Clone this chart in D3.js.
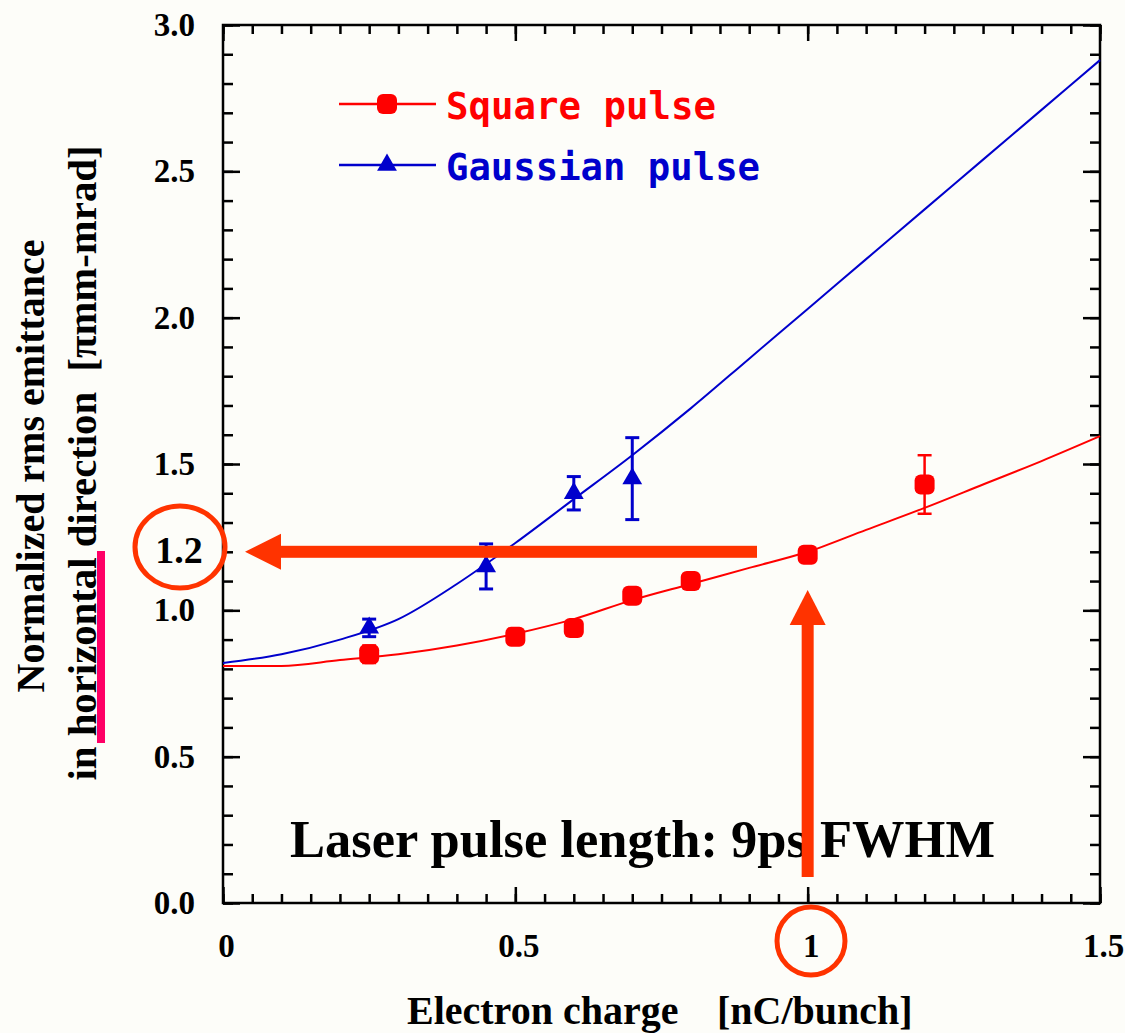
<!DOCTYPE html>
<html>
<head>
<meta charset="utf-8">
<script src="https://cdn.jsdelivr.net/npm/d3@7"></script>
<style>
  html, body { margin: 0; padding: 0; background: #fdfdf9; }
  svg { display: block; }
</style>
</head>
<body>
<script>
// Emittance measurements (square vs gaussian laser pulse)
const squareCharge = [0.25, 0.5, 0.6, 0.7, 0.8, 1.0, 1.2];
const squareEmit   = [0.85, 0.91, 0.94, 1.05, 1.10, 1.19, 1.43];
const squareErr    = [0.03, 0, 0, 0, 0, 0, 0.10];

const gaussCharge = [0.25, 0.45, 0.6, 0.7];
const gaussEmit   = [0.94, 1.15, 1.40, 1.45];
const gaussErr    = [0.03, 0.077, 0.057, 0.14];

// Simulated curves
const fitCharge   = [0, 0.1, 0.2, 0.3, 0.4, 0.5, 0.6, 0.7, 0.8, 0.9, 1.0, 1.1, 1.2, 1.3, 1.4, 1.5];
const squareFit   = [0.81, 0.81, 0.83, 0.85, 0.88, 0.92, 0.97, 1.035, 1.09, 1.145, 1.20, 1.275, 1.35, 1.43, 1.51, 1.595];
const gaussFit    = [0.82, 0.85, 0.90, 0.97, 1.09, 1.23, 1.38, 1.53, 1.69, 1.86, 2.03, 2.20, 2.37, 2.54, 2.71, 2.88];

const xMajor = [0, 0.5, 1, 1.5];
const yMajor = [0, 0.5, 1.0, 1.5, 2.0, 2.5, 3.0];

const seriesNames = ["Square pulse", "Gaussian pulse"];
const highlightEmit = 1.2;
const highlightCharge = 1;

const W = 1125, H = 1033;
const RED = "#ff0000", BLUE = "#0000cc", MARK = "#ff3300";

const svg = d3.select("body").append("svg").attr("width", W).attr("height", H);
svg.append("rect").attr("width", W).attr("height", H).attr("fill", "#fdfdf9");

const x = d3.scaleLinear().domain([0, 1.5]).range([223, 1100]);
const y = d3.scaleLinear().domain([0, 3]).range([903, 25]);

const xMinor = d3.range(0, 1.5001, 0.05).map(v => +v.toFixed(2));
const yMinor = d3.range(0, 3.0001, 0.1).map(v => +v.toFixed(1));

const tickFont = "'Liberation Serif', 'Times New Roman', serif";

// minor ticks, all four sides, pointing inward
function styleAxis(g) {
  g.select(".domain").remove();
  g.selectAll("line").attr("stroke", "#000").attr("stroke-width", 2.5);
}
svg.append("g").attr("transform", "translate(0,903)")
  .call(d3.axisBottom(x).tickValues(xMinor).tickSize(-9).tickFormat("")).call(styleAxis);
svg.append("g").attr("transform", "translate(0,25)")
  .call(d3.axisTop(x).tickValues(xMinor).tickSize(-9).tickFormat("")).call(styleAxis);
svg.append("g").attr("transform", "translate(223,0)")
  .call(d3.axisLeft(y).tickValues(yMinor).tickSize(-10).tickFormat("")).call(styleAxis);
svg.append("g").attr("transform", "translate(1100,0)")
  .call(d3.axisRight(y).tickValues(yMinor).tickSize(-10).tickFormat("")).call(styleAxis);

// major ticks with labels
const xAx = svg.append("g").attr("transform", "translate(0,903)")
  .call(d3.axisBottom(x).tickValues(xMajor).tickSize(-16).tickPadding(31).tickFormat(d => String(d)))
  .call(styleAxis);
xAx.selectAll("text").attr("font-family", tickFont).attr("font-weight", "bold")
  .attr("font-size", 33).attr("fill", "#000").attr("dx", 3);

svg.append("g").attr("transform", "translate(0,25)")
  .call(d3.axisTop(x).tickValues(xMajor).tickSize(-16).tickFormat("")).call(styleAxis);

const yAx = svg.append("g").attr("transform", "translate(223,0)")
  .call(d3.axisLeft(y).tickValues(yMajor).tickSize(-17).tickPadding(28).tickFormat(d3.format(".1f")))
  .call(styleAxis);
yAx.selectAll("text").attr("font-family", tickFont).attr("font-weight", "bold")
  .attr("font-size", 33).attr("fill", "#000");

svg.append("g").attr("transform", "translate(1100,0)")
  .call(d3.axisRight(y).tickValues(yMajor).tickSize(-17).tickFormat("")).call(styleAxis);

// frame
svg.append("rect").attr("x", x(0)).attr("y", y(3)).attr("width", x(1.5) - x(0)).attr("height", y(0) - y(3))
  .attr("fill", "none").attr("stroke", "#000").attr("stroke-width", 2.5);

// axis titles
svg.append("text").attr("x", 407).attr("y", 1024)
  .attr("font-family", tickFont).attr("font-weight", "bold").attr("font-size", 40)
  .text("Electron charge");
svg.append("text").attr("x", 717).attr("y", 1024)
  .attr("font-family", tickFont).attr("font-weight", "bold").attr("font-size", 40)
  .text("[nC/bunch]");

const yTitle = svg.append("g").attr("transform", "translate(0,466) rotate(-90)");
yTitle.append("text").attr("x", 0).attr("y", 44).attr("text-anchor", "middle")
  .attr("font-family", tickFont).attr("font-weight", "bold").attr("font-size", 40)
  .attr("textLength", 453).attr("lengthAdjust", "spacingAndGlyphs")
  .text("Normalized rms emittance");
yTitle.append("text").attr("x", 3).attr("y", 96).attr("text-anchor", "middle")
  .attr("font-family", tickFont).attr("font-weight", "bold").attr("font-size", 40)
  .attr("textLength", 635).attr("lengthAdjust", "spacingAndGlyphs")
  .attr("xml:space", "preserve")
  .text("in horizontal direction  [\u03c0mm-mrad]");

// highlight bar beside the title
svg.append("rect").attr("x", 97).attr("y", 551).attr("width", 8).attr("height", 192).attr("fill", "#ff0066");

// simulated curves
const line = d3.line().x(d => x(d[0])).y(d => y(d[1])).curve(d3.curveMonotoneX);
svg.append("path").datum(fitCharge.map((c, i) => [c, squareFit[i]]))
  .attr("d", line).attr("fill", "none").attr("stroke", RED).attr("stroke-width", 2);
svg.append("path").datum(fitCharge.map((c, i) => [c, gaussFit[i]]))
  .attr("d", line).attr("fill", "none").attr("stroke", BLUE).attr("stroke-width", 2);

// error bars
function errorBars(cs, vs, es, color, w) {
  const g = svg.append("g").attr("stroke", color).attr("stroke-width", w);
  cs.forEach((c, i) => {
    if (!es[i]) return;
    const cx = x(c), y1 = y(vs[i] + es[i]), y0 = y(vs[i] - es[i]);
    g.append("line").attr("x1", cx).attr("x2", cx).attr("y1", y1).attr("y2", y0);
    g.append("line").attr("x1", cx - 7).attr("x2", cx + 7).attr("y1", y1).attr("y2", y1);
    g.append("line").attr("x1", cx - 7).attr("x2", cx + 7).attr("y1", y0).attr("y2", y0);
  });
}
errorBars(squareCharge, squareEmit, squareErr, RED, 2.5);
errorBars(gaussCharge, gaussEmit, gaussErr, BLUE, 3);

// markers: rounded squares for the square pulse, triangles for the gaussian
svg.append("g").selectAll("rect").data(squareCharge).join("rect")
  .attr("x", d => x(d) - 10).attr("y", (d, i) => y(squareEmit[i]) - 10)
  .attr("width", 20).attr("height", 20).attr("rx", 6).attr("fill", RED);
const tri = d3.symbol().type(d3.symbolTriangle).size(170);
svg.append("g").selectAll("path").data(gaussCharge).join("path")
  .attr("transform", (d, i) => `translate(${x(d)},${y(gaussEmit[i])})`).attr("d", tri).attr("fill", BLUE);

// legend
const legendFont = "'DejaVu Sans Mono', monospace";
const legend = svg.append("g");
[[RED, 104], [BLUE, 165]].forEach(([col, ly], i) => {
  legend.append("line").attr("x1", 339).attr("x2", 436).attr("y1", ly).attr("y2", ly)
    .attr("stroke", col).attr("stroke-width", 2.5);
  if (i === 0) legend.append("rect").attr("x", 377).attr("y", ly - 10).attr("width", 20).attr("height", 20)
    .attr("rx", 6).attr("fill", col);
  else legend.append("path").attr("transform", `translate(387,${ly})`).attr("d", tri).attr("fill", col);
  legend.append("text").attr("x", 446).attr("y", ly + 15)
    .attr("font-family", legendFont).attr("font-weight", "bold").attr("font-size", 37).attr("fill", col)
    .attr("textLength", i === 0 ? 270 : 314).attr("lengthAdjust", "spacingAndGlyphs")
    .text(seriesNames[i]);
});

// note
svg.append("text").attr("x", 290).attr("y", 857)
  .attr("font-family", tickFont).attr("font-weight", "bold").attr("font-size", 53)
  .attr("textLength", 705).attr("lengthAdjust", "spacingAndGlyphs")
  .text("Laser pulse length: 9ps FWHM");

// call-out arrows and circles
const yH = y(highlightEmit), xV = x(highlightCharge);
svg.append("rect").attr("x", 278).attr("y", yH - 6).attr("width", 757 - 278).attr("height", 12).attr("fill", MARK);
svg.append("path").attr("d", `M245,${yH} L281,${yH - 18} L281,${yH + 18} Z`).attr("fill", MARK);
svg.append("rect").attr("x", xV - 6).attr("y", 623).attr("width", 12).attr("height", 877 - 623).attr("fill", MARK);
svg.append("path").attr("d", `M${xV},590 L${xV - 18},625 L${xV + 18},625 Z`).attr("fill", MARK);

svg.append("ellipse").attr("cx", 180).attr("cy", 547).attr("rx", 45).attr("ry", 41)
  .attr("fill", "none").attr("stroke", MARK).attr("stroke-width", 5);
svg.append("text").attr("x", 179).attr("y", 563).attr("text-anchor", "middle")
  .attr("font-family", tickFont).attr("font-weight", "bold").attr("font-size", 38)
  .text(d3.format(".1f")(highlightEmit));
svg.append("circle").attr("cx", 811).attr("cy", 941).attr("r", 34)
  .attr("fill", "none").attr("stroke", MARK).attr("stroke-width", 5);
</script>
</body>
</html>
